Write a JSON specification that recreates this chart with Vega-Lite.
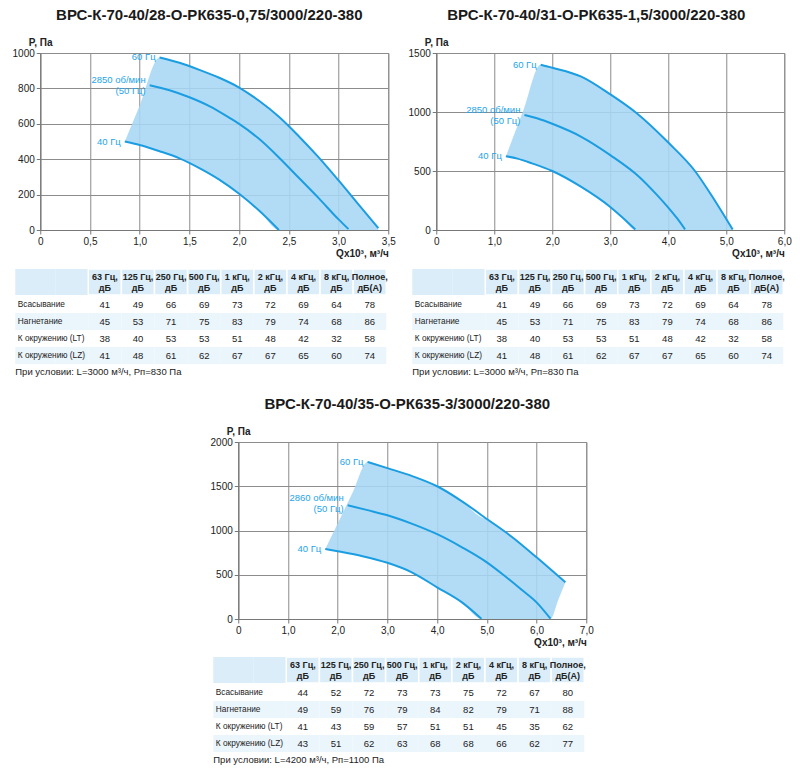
{
  "$schema": "https://vega.github.io/schema/vega-lite/v6.json",
  "background": "white",
  "padding": {"left": 11, "top": 7, "right": 5, "bottom": 5},
  "config": {
    "font": "Liberation Sans",
    "view": {"stroke": "#8c8c8c"},
    "axis": {
      "labelFontSize": 10, "labelColor": "#222", "labelFlush": false, "labelOverlap": false,
      "labelPadding": 2, "tickSize": 4, "tickColor": "#777", "domainColor": "#777",
      "gridColor": "#8c8c8c", "gridOpacity": 1,
      "titleFontSize": 10, "titleFontWeight": "bold", "titleColor": "#222"
    },
    "title": {"fontSize": 15, "fontWeight": "bold", "color": "#1a1a1a", "offset": 14, "anchor": "middle"}
  },
  "datasets": {
    "c1": [
      {"hz": "60", "q": 1.2, "p": 975}, {"hz": "60", "q": 1.4, "p": 945}, {"hz": "60", "q": 1.6, "p": 905},
      {"hz": "60", "q": 1.8, "p": 860}, {"hz": "60", "q": 2.0, "p": 805}, {"hz": "60", "q": 2.2, "p": 730},
      {"hz": "60", "q": 2.4, "p": 640}, {"hz": "60", "q": 2.6, "p": 530}, {"hz": "60", "q": 2.8, "p": 410},
      {"hz": "60", "q": 3.0, "p": 280}, {"hz": "60", "q": 3.2, "p": 145}, {"hz": "60", "q": 3.4, "p": 10},
      {"hz": "50", "q": 1.1, "p": 818}, {"hz": "50", "q": 1.3, "p": 790}, {"hz": "50", "q": 1.5, "p": 750},
      {"hz": "50", "q": 1.7, "p": 700}, {"hz": "50", "q": 1.9, "p": 635}, {"hz": "50", "q": 2.0, "p": 600},
      {"hz": "50", "q": 2.2, "p": 515}, {"hz": "50", "q": 2.4, "p": 410}, {"hz": "50", "q": 2.6, "p": 295},
      {"hz": "50", "q": 2.8, "p": 180}, {"hz": "50", "q": 3.0, "p": 60}, {"hz": "50", "q": 3.1, "p": 5},
      {"hz": "40", "q": 0.85, "p": 500}, {"hz": "40", "q": 1.0, "p": 480}, {"hz": "40", "q": 1.2, "p": 445},
      {"hz": "40", "q": 1.4, "p": 405}, {"hz": "40", "q": 1.6, "p": 350}, {"hz": "40", "q": 1.8, "p": 285},
      {"hz": "40", "q": 2.0, "p": 205}, {"hz": "40", "q": 2.2, "p": 110}, {"hz": "40", "q": 2.4, "p": 0}
    ],
    "f1": [
      {"q": 0.85, "p": 500, "p2": 500}, {"q": 1.0, "p": 704, "p2": 480}, {"q": 1.2, "p": 975, "p2": 445},
      {"q": 1.4, "p": 945, "p2": 405}, {"q": 1.6, "p": 905, "p2": 350}, {"q": 1.8, "p": 860, "p2": 285},
      {"q": 2.0, "p": 805, "p2": 205}, {"q": 2.2, "p": 730, "p2": 110}, {"q": 2.4, "p": 640, "p2": 0},
      {"q": 2.6, "p": 530, "p2": 0}, {"q": 2.8, "p": 410, "p2": 0}, {"q": 3.0, "p": 280, "p2": 0},
      {"q": 3.2, "p": 145, "p2": 0}, {"q": 3.4, "p": 10, "p2": 0}
    ],
    "l1": [
      {"q": 1.2, "p": 975, "t": "60 Гц"},
      {"q": 0.85, "p": 500, "t": "40 Гц"}
    ],
    "m1": [
      {"q": 1.1, "p": 818, "t": ["2850 об/мин", "(50 Гц)"]}
    ],
    "c2": [
      {"hz": "60", "q": 1.8, "p": 1400}, {"hz": "60", "q": 2.0, "p": 1375}, {"hz": "60", "q": 2.5, "p": 1300},
      {"hz": "60", "q": 3.0, "p": 1150}, {"hz": "60", "q": 3.43, "p": 1000}, {"hz": "60", "q": 4.0, "p": 741},
      {"hz": "60", "q": 4.46, "p": 500}, {"hz": "60", "q": 4.75, "p": 290}, {"hz": "60", "q": 5.0, "p": 93},
      {"hz": "60", "q": 5.11, "p": 5},
      {"hz": "50", "q": 1.52, "p": 975}, {"hz": "50", "q": 1.75, "p": 945}, {"hz": "50", "q": 2.0, "p": 900},
      {"hz": "50", "q": 2.5, "p": 790}, {"hz": "50", "q": 3.0, "p": 635}, {"hz": "50", "q": 3.5, "p": 450},
      {"hz": "50", "q": 3.8, "p": 300}, {"hz": "50", "q": 4.0, "p": 190}, {"hz": "50", "q": 4.15, "p": 100},
      {"hz": "50", "q": 4.29, "p": 5},
      {"hz": "40", "q": 1.2, "p": 625}, {"hz": "40", "q": 1.4, "p": 605}, {"hz": "40", "q": 1.65, "p": 565},
      {"hz": "40", "q": 2.0, "p": 500}, {"hz": "40", "q": 2.5, "p": 365}, {"hz": "40", "q": 3.0, "p": 195},
      {"hz": "40", "q": 3.2, "p": 110}, {"hz": "40", "q": 3.43, "p": 5}
    ],
    "f2": [
      {"q": 1.2, "p": 625, "p2": 625}, {"q": 1.5, "p": 1012, "p2": 585}, {"q": 1.8, "p": 1400, "p2": 540},
      {"q": 2.0, "p": 1375, "p2": 500}, {"q": 2.5, "p": 1300, "p2": 365}, {"q": 3.0, "p": 1150, "p2": 195},
      {"q": 3.2, "p": 1080, "p2": 110}, {"q": 3.43, "p": 1000, "p2": 0}, {"q": 4.0, "p": 741, "p2": 0},
      {"q": 4.46, "p": 500, "p2": 0}, {"q": 4.75, "p": 290, "p2": 0}, {"q": 5.0, "p": 93, "p2": 0},
      {"q": 5.11, "p": 5, "p2": 0}
    ],
    "l2": [
      {"q": 1.8, "p": 1400, "t": "60 Гц"},
      {"q": 1.2, "p": 625, "t": "40 Гц"}
    ],
    "m2": [
      {"q": 1.52, "p": 975, "t": ["2850 об/мин", "(50 Гц)"]}
    ],
    "c3": [
      {"hz": "60", "q": 2.6, "p": 1775}, {"hz": "60", "q": 3.0, "p": 1705}, {"hz": "60", "q": 3.5, "p": 1615},
      {"hz": "60", "q": 4.0, "p": 1500}, {"hz": "60", "q": 4.5, "p": 1330}, {"hz": "60", "q": 5.0, "p": 1130},
      {"hz": "60", "q": 5.5, "p": 930}, {"hz": "60", "q": 6.0, "p": 697}, {"hz": "60", "q": 6.58, "p": 414},
      {"hz": "50", "q": 2.2, "p": 1285}, {"hz": "50", "q": 2.6, "p": 1230}, {"hz": "50", "q": 3.0, "p": 1172},
      {"hz": "50", "q": 3.5, "p": 1075}, {"hz": "50", "q": 4.0, "p": 958}, {"hz": "50", "q": 4.5, "p": 810},
      {"hz": "50", "q": 5.0, "p": 640}, {"hz": "50", "q": 5.33, "p": 500}, {"hz": "50", "q": 5.7, "p": 330},
      {"hz": "50", "q": 6.0, "p": 188}, {"hz": "50", "q": 6.28, "p": 3},
      {"hz": "40", "q": 1.75, "p": 790}, {"hz": "40", "q": 2.0, "p": 765}, {"hz": "40", "q": 2.5, "p": 710},
      {"hz": "40", "q": 3.0, "p": 635}, {"hz": "40", "q": 3.5, "p": 525}, {"hz": "40", "q": 4.0, "p": 358},
      {"hz": "40", "q": 4.5, "p": 188}, {"hz": "40", "q": 4.89, "p": 3}
    ],
    "f3": [
      {"q": 1.75, "p": 790, "p2": 790}, {"q": 2.0, "p": 1080, "p2": 765}, {"q": 2.3, "p": 1428, "p2": 732},
      {"q": 2.6, "p": 1775, "p2": 695}, {"q": 3.0, "p": 1705, "p2": 635}, {"q": 3.5, "p": 1615, "p2": 525},
      {"q": 4.0, "p": 1500, "p2": 358}, {"q": 4.5, "p": 1330, "p2": 188}, {"q": 4.89, "p": 1150, "p2": 0},
      {"q": 5.0, "p": 1130, "p2": 0}, {"q": 5.5, "p": 930, "p2": 0}, {"q": 6.0, "p": 697, "p2": 0},
      {"q": 6.28, "p": 560, "p2": 0}, {"q": 6.43, "p": 487, "p2": 207}, {"q": 6.58, "p": 414, "p2": 414}
    ],
    "l3": [
      {"q": 2.6, "p": 1775, "t": "60 Гц"},
      {"q": 1.75, "p": 790, "t": "40 Гц"}
    ],
    "m3": [
      {"q": 2.2, "p": 1285, "t": ["2860 об/мин", "(50 Гц)"]}
    ],
    "hd": [
      {"col": "63 Гц", "h": ["63 Гц,", "дБ"]}, {"col": "125 Гц", "h": ["125 Гц,", "дБ"]},
      {"col": "250 Гц", "h": ["250 Гц,", "дБ"]}, {"col": "500 Гц", "h": ["500 Гц,", "дБ"]},
      {"col": "1 кГц", "h": ["1 кГц,", "дБ"]}, {"col": "2 кГц", "h": ["2 кГц,", "дБ"]},
      {"col": "4 кГц", "h": ["4 кГц,", "дБ"]}, {"col": "8 кГц", "h": ["8 кГц,", "дБ"]},
      {"col": "Полное", "h": ["Полное,", "дБ(А)"]}
    ],
    "tA": [
      {"row": "Всасывание", "63 Гц": 41, "125 Гц": 49, "250 Гц": 66, "500 Гц": 69, "1 кГц": 73, "2 кГц": 72, "4 кГц": 69, "8 кГц": 64, "Полное": 78},
      {"row": "Нагнетание", "63 Гц": 45, "125 Гц": 53, "250 Гц": 71, "500 Гц": 75, "1 кГц": 83, "2 кГц": 79, "4 кГц": 74, "8 кГц": 68, "Полное": 86},
      {"row": "К окружению (LT)", "63 Гц": 38, "125 Гц": 40, "250 Гц": 53, "500 Гц": 53, "1 кГц": 51, "2 кГц": 48, "4 кГц": 42, "8 кГц": 32, "Полное": 58},
      {"row": "К окружению (LZ)", "63 Гц": 41, "125 Гц": 48, "250 Гц": 61, "500 Гц": 62, "1 кГц": 67, "2 кГц": 67, "4 кГц": 65, "8 кГц": 60, "Полное": 74}
    ],
    "tB": [
      {"row": "Всасывание", "63 Гц": 44, "125 Гц": 52, "250 Гц": 72, "500 Гц": 73, "1 кГц": 73, "2 кГц": 75, "4 кГц": 72, "8 кГц": 67, "Полное": 80},
      {"row": "Нагнетание", "63 Гц": 49, "125 Гц": 59, "250 Гц": 76, "500 Гц": 79, "1 кГц": 84, "2 кГц": 82, "4 кГц": 79, "8 кГц": 71, "Полное": 88},
      {"row": "К окружению (LT)", "63 Гц": 41, "125 Гц": 43, "250 Гц": 59, "500 Гц": 57, "1 кГц": 51, "2 кГц": 51, "4 кГц": 45, "8 кГц": 35, "Полное": 62},
      {"row": "К окружению (LZ)", "63 Гц": 43, "125 Гц": 51, "250 Гц": 62, "500 Гц": 63, "1 кГц": 68, "2 кГц": 68, "4 кГц": 66, "8 кГц": 62, "Полное": 77}
    ]
  },
  "vconcat": [
    {
      "spacing": 9,
      "vconcat": [
        {
          "spacing": 11,
          "hconcat": [
            {
              "title": {"text": "ВРС-К-70-40/28-О-РК635-0,75/3000/220-380", "dx": -5},
              "width": 348, "height": 177,
              "encoding": {
                "x": {"field": "q", "type": "quantitative", "scale": {"domain": [0, 3.5], "nice": false},
                  "axis": {"values": [0, 0.5, 1, 1.5, 2, 2.5, 3, 3.5], "labelExpr": "datum.value == 0 ? '0' : replace(format(datum.value, '.1f'), '.', ',')",
                    "title": "Qx10³, м³/ч", "titleAnchor": "end", "titleAlign": "right", "titlePadding": 2, "grid": true}},
                "y": {"field": "p", "type": "quantitative", "scale": {"domain": [0, 1000], "nice": false},
                  "axis": {"values": [0, 200, 400, 600, 800, 1000], "format": "d", "title": "P, Па", "titleAngle": 0, "titleAlign": "left",
                    "titleBaseline": "bottom", "titleX": -12, "titleY": -6, "grid": true}}
              },
              "layer": [
                {"data": {"name": "f1"}, "mark": {"type": "area", "color": "#a7d7f5", "opacity": 0.88, "interpolate": "monotone"}, "encoding": {"y2": {"field": "p2"}}},
                {"data": {"name": "c1"}, "mark": {"type": "line", "color": "#1b9de2", "strokeWidth": 2, "interpolate": "monotone"}, "encoding": {"detail": {"field": "hz", "type": "nominal"}}},
                {"data": {"name": "l1"}, "mark": {"type": "text", "align": "right", "baseline": "middle", "dx": -4, "fontSize": 9.5, "color": "#1ea4ec"}, "encoding": {"text": {"field": "t"}}},
                {"data": {"name": "m1"}, "mark": {"type": "text", "align": "right", "baseline": "middle", "dx": -4, "dy": -5, "fontSize": 9.5, "color": "#1ea4ec", "lineHeight": 11}, "encoding": {"text": {"field": "t"}}}
              ]
            },
            {
              "title": {"text": "ВРС-К-70-40/31-О-РК635-1,5/3000/220-380", "dx": -14},
              "width": 348, "height": 177,
              "encoding": {
                "x": {"field": "q", "type": "quantitative", "scale": {"domain": [0, 6], "nice": false},
                  "axis": {"values": [0, 1, 2, 3, 4, 5, 6], "labelExpr": "datum.value == 0 ? '0' : replace(format(datum.value, '.1f'), '.', ',')",
                    "title": "Qx10³, м³/ч", "titleAnchor": "end", "titleAlign": "right", "titlePadding": 2, "grid": true}},
                "y": {"field": "p", "type": "quantitative", "scale": {"domain": [0, 1500], "nice": false},
                  "axis": {"values": [0, 500, 1000, 1500], "format": "d", "title": "P, Па", "titleAngle": 0, "titleAlign": "left",
                    "titleBaseline": "bottom", "titleX": -12, "titleY": -6, "grid": true}}
              },
              "layer": [
                {"data": {"name": "f2"}, "mark": {"type": "area", "color": "#a7d7f5", "opacity": 0.88, "interpolate": "monotone"}, "encoding": {"y2": {"field": "p2"}}},
                {"data": {"name": "c2"}, "mark": {"type": "line", "color": "#1b9de2", "strokeWidth": 2, "interpolate": "monotone"}, "encoding": {"detail": {"field": "hz", "type": "nominal"}}},
                {"data": {"name": "l2"}, "mark": {"type": "text", "align": "right", "baseline": "middle", "dx": -4, "fontSize": 9.5, "color": "#1ea4ec"}, "encoding": {"text": {"field": "t"}}},
                {"data": {"name": "m2"}, "mark": {"type": "text", "align": "right", "baseline": "middle", "dx": -4, "dy": -5, "fontSize": 9.5, "color": "#1ea4ec", "lineHeight": 11}, "encoding": {"text": {"field": "t"}}}
              ]
            }
          ]
        },
        {
          "spacing": 20,
          "hconcat": [
            {
              "spacing": 0,
              "vconcat": [
                {
                  "width": 352, "height": 26, "view": {"stroke": null},
                  "data": {"name": "hd"},
                  "layer": [
                    {"transform": [{"filter": {"field": "col", "equal": "63 Гц"}}], "mark": {"type": "rect", "color": "#dbedf9", "xOffset": -73},
                      "encoding": {"x": {"field": "col", "type": "nominal", "scale": {"type": "band", "domain": ["63 Гц", "125 Гц", "250 Гц", "500 Гц", "1 кГц", "2 кГц", "4 кГц", "8 кГц", "Полное"], "paddingInner": 0, "paddingOuter": 0.8157, "align": 0.889}, "axis": null}}},
                    {"transform": [{"filter": {"field": "col", "equal": "63 Гц"}}], "mark": {"type": "rect", "color": "#dbedf9", "xOffset": -66},
                      "encoding": {"x": {"field": "col", "type": "nominal", "axis": null}}},
                    {"transform": [{"filter": {"field": "col", "equal": "63 Гц"}}], "mark": {"type": "rect", "color": "#dbedf9", "xOffset": -33},
                      "encoding": {"x": {"field": "col", "type": "nominal", "axis": null}}},
                    {"mark": {"type": "rect", "color": "#dbedf9", "stroke": "#ffffff", "strokeWidth": 1.5},
                      "encoding": {"x": {"field": "col", "type": "nominal", "axis": null}}},
                    {"mark": {"type": "text", "fontSize": 9, "fontWeight": "bold", "color": "#222", "lineHeight": 10.5, "baseline": "middle", "dy": -5},
                      "encoding": {"x": {"field": "col", "type": "nominal", "axis": null}, "text": {"field": "h"}}}
                  ]
                },
                {
                  "width": 352, "height": 68, "view": {"stroke": null},
                  "data": {"name": "tA"},
                  "transform": [{"fold": ["63 Гц", "125 Гц", "250 Гц", "500 Гц", "1 кГц", "2 кГц", "4 кГц", "8 кГц", "Полное"], "as": ["col", "v"]}],
                  "title": {"text": "При условии: L=3000 м³/ч, Рп=830 Па", "orient": "bottom", "anchor": "start", "fontSize": 9.5, "fontWeight": "normal", "color": "#222", "offset": 3},
                  "encoding": {
                    "y": {"field": "row", "type": "nominal", "sort": ["Всасывание", "Нагнетание", "К окружению (LT)", "К окружению (LZ)"],
                      "scale": {"type": "band", "paddingInner": 0, "paddingOuter": 0},
                      "axis": {"title": null, "domain": false, "ticks": false, "grid": false, "labelAlign": "left", "labelPadding": 23, "labelFontSize": 8.3, "labelColor": "#222", "zindex": 1}},
                    "color": {"condition": {"test": "datum.row === 'Нагнетание' || datum.row === 'К окружению (LZ)'", "value": "#ebf5fc"}, "value": "#ffffff"}
                  },
                  "layer": [
                    {"transform": [{"filter": {"field": "col", "equal": "63 Гц"}}], "mark": {"type": "rect", "xOffset": -73},
                      "encoding": {"x": {"field": "col", "type": "nominal", "scale": {"type": "band", "domain": ["63 Гц", "125 Гц", "250 Гц", "500 Гц", "1 кГц", "2 кГц", "4 кГц", "8 кГц", "Полное"], "paddingInner": 0, "paddingOuter": 0.8157, "align": 0.889}, "axis": null}}},
                    {"transform": [{"filter": {"field": "col", "equal": "63 Гц"}}], "mark": {"type": "rect", "xOffset": -66},
                      "encoding": {"x": {"field": "col", "type": "nominal", "axis": null}}},
                    {"transform": [{"filter": {"field": "col", "equal": "63 Гц"}}], "mark": {"type": "rect", "xOffset": -33},
                      "encoding": {"x": {"field": "col", "type": "nominal", "axis": null}}},
                    {"mark": {"type": "rect"}, "encoding": {"x": {"field": "col", "type": "nominal", "axis": null}}},
                    {"mark": {"type": "text", "fontSize": 9.5},
                      "encoding": {"x": {"field": "col", "type": "nominal", "axis": null}, "text": {"field": "v", "type": "quantitative"}, "color": {"value": "#222"}}}
                  ]
                }
              ]
            },
            {
              "spacing": 0,
              "vconcat": [
                {
                  "width": 352, "height": 26, "view": {"stroke": null},
                  "data": {"name": "hd"},
                  "layer": [
                    {"transform": [{"filter": {"field": "col", "equal": "63 Гц"}}], "mark": {"type": "rect", "color": "#dbedf9", "xOffset": -73},
                      "encoding": {"x": {"field": "col", "type": "nominal", "scale": {"type": "band", "domain": ["63 Гц", "125 Гц", "250 Гц", "500 Гц", "1 кГц", "2 кГц", "4 кГц", "8 кГц", "Полное"], "paddingInner": 0, "paddingOuter": 0.8157, "align": 0.889}, "axis": null}}},
                    {"transform": [{"filter": {"field": "col", "equal": "63 Гц"}}], "mark": {"type": "rect", "color": "#dbedf9", "xOffset": -66},
                      "encoding": {"x": {"field": "col", "type": "nominal", "axis": null}}},
                    {"transform": [{"filter": {"field": "col", "equal": "63 Гц"}}], "mark": {"type": "rect", "color": "#dbedf9", "xOffset": -33},
                      "encoding": {"x": {"field": "col", "type": "nominal", "axis": null}}},
                    {"mark": {"type": "rect", "color": "#dbedf9", "stroke": "#ffffff", "strokeWidth": 1.5},
                      "encoding": {"x": {"field": "col", "type": "nominal", "axis": null}}},
                    {"mark": {"type": "text", "fontSize": 9, "fontWeight": "bold", "color": "#222", "lineHeight": 10.5, "baseline": "middle", "dy": -5},
                      "encoding": {"x": {"field": "col", "type": "nominal", "axis": null}, "text": {"field": "h"}}}
                  ]
                },
                {
                  "width": 352, "height": 68, "view": {"stroke": null},
                  "data": {"name": "tA"},
                  "transform": [{"fold": ["63 Гц", "125 Гц", "250 Гц", "500 Гц", "1 кГц", "2 кГц", "4 кГц", "8 кГц", "Полное"], "as": ["col", "v"]}],
                  "title": {"text": "При условии: L=3000 м³/ч, Рп=830 Па", "orient": "bottom", "anchor": "start", "fontSize": 9.5, "fontWeight": "normal", "color": "#222", "offset": 3},
                  "encoding": {
                    "y": {"field": "row", "type": "nominal", "sort": ["Всасывание", "Нагнетание", "К окружению (LT)", "К окружению (LZ)"],
                      "scale": {"type": "band", "paddingInner": 0, "paddingOuter": 0},
                      "axis": {"title": null, "domain": false, "ticks": false, "grid": false, "labelAlign": "left", "labelPadding": 23, "labelFontSize": 8.3, "labelColor": "#222", "zindex": 1}},
                    "color": {"condition": {"test": "datum.row === 'Нагнетание' || datum.row === 'К окружению (LZ)'", "value": "#ebf5fc"}, "value": "#ffffff"}
                  },
                  "layer": [
                    {"transform": [{"filter": {"field": "col", "equal": "63 Гц"}}], "mark": {"type": "rect", "xOffset": -73},
                      "encoding": {"x": {"field": "col", "type": "nominal", "scale": {"type": "band", "domain": ["63 Гц", "125 Гц", "250 Гц", "500 Гц", "1 кГц", "2 кГц", "4 кГц", "8 кГц", "Полное"], "paddingInner": 0, "paddingOuter": 0.8157, "align": 0.889}, "axis": null}}},
                    {"transform": [{"filter": {"field": "col", "equal": "63 Гц"}}], "mark": {"type": "rect", "xOffset": -66},
                      "encoding": {"x": {"field": "col", "type": "nominal", "axis": null}}},
                    {"transform": [{"filter": {"field": "col", "equal": "63 Гц"}}], "mark": {"type": "rect", "xOffset": -33},
                      "encoding": {"x": {"field": "col", "type": "nominal", "axis": null}}},
                    {"mark": {"type": "rect"}, "encoding": {"x": {"field": "col", "type": "nominal", "axis": null}}},
                    {"mark": {"type": "text", "fontSize": 9.5},
                      "encoding": {"x": {"field": "col", "type": "nominal", "axis": null}, "text": {"field": "v", "type": "quantitative"}, "color": {"value": "#222"}}}
                  ]
                }
              ]
            }
          ]
        }
      ]
    },
    {
      "spacing": 8,
      "vconcat": [
        {
          "hconcat": [
            {
              "title": {"text": "ВРС-К-70-40/35-О-РК635-3/3000/220-380", "dx": -5},
              "width": 348, "height": 177,
              "encoding": {
                "x": {"field": "q", "type": "quantitative", "scale": {"domain": [0, 7], "nice": false},
                  "axis": {"values": [0, 1, 2, 3, 4, 5, 6, 7], "labelExpr": "datum.value == 0 ? '0' : replace(format(datum.value, '.1f'), '.', ',')",
                    "title": "Qx10³, м³/ч", "titleAnchor": "end", "titleAlign": "right", "titlePadding": 2, "grid": true}},
                "y": {"field": "p", "type": "quantitative", "scale": {"domain": [0, 2000], "nice": false},
                  "axis": {"values": [0, 500, 1000, 1500, 2000], "format": "d", "title": "P, Па", "titleAngle": 0, "titleAlign": "left",
                    "titleBaseline": "bottom", "titleX": -12, "titleY": -6, "grid": true}}
              },
              "layer": [
                {"data": {"name": "f3"}, "mark": {"type": "area", "color": "#a7d7f5", "opacity": 0.88, "interpolate": "monotone"}, "encoding": {"y2": {"field": "p2"}}},
                {"data": {"name": "c3"}, "mark": {"type": "line", "color": "#1b9de2", "strokeWidth": 2, "interpolate": "monotone"}, "encoding": {"detail": {"field": "hz", "type": "nominal"}}},
                {"data": {"name": "l3"}, "mark": {"type": "text", "align": "right", "baseline": "middle", "dx": -4, "fontSize": 9.5, "color": "#1ea4ec"}, "encoding": {"text": {"field": "t"}}},
                {"data": {"name": "m3"}, "mark": {"type": "text", "align": "right", "baseline": "middle", "dx": -4, "dy": -7, "fontSize": 9.5, "color": "#1ea4ec", "lineHeight": 11}, "encoding": {"text": {"field": "t"}}}
              ]
            }
          ]
        },
        {
          "hconcat": [
            {
              "spacing": 0,
              "vconcat": [
                {
                  "width": 352, "height": 26, "view": {"stroke": null},
                  "data": {"name": "hd"},
                  "layer": [
                    {"transform": [{"filter": {"field": "col", "equal": "63 Гц"}}], "mark": {"type": "rect", "color": "#dbedf9", "xOffset": -73},
                      "encoding": {"x": {"field": "col", "type": "nominal", "scale": {"type": "band", "domain": ["63 Гц", "125 Гц", "250 Гц", "500 Гц", "1 кГц", "2 кГц", "4 кГц", "8 кГц", "Полное"], "paddingInner": 0, "paddingOuter": 0.8157, "align": 0.889}, "axis": null}}},
                    {"transform": [{"filter": {"field": "col", "equal": "63 Гц"}}], "mark": {"type": "rect", "color": "#dbedf9", "xOffset": -66},
                      "encoding": {"x": {"field": "col", "type": "nominal", "axis": null}}},
                    {"transform": [{"filter": {"field": "col", "equal": "63 Гц"}}], "mark": {"type": "rect", "color": "#dbedf9", "xOffset": -33},
                      "encoding": {"x": {"field": "col", "type": "nominal", "axis": null}}},
                    {"mark": {"type": "rect", "color": "#dbedf9", "stroke": "#ffffff", "strokeWidth": 1.5},
                      "encoding": {"x": {"field": "col", "type": "nominal", "axis": null}}},
                    {"mark": {"type": "text", "fontSize": 9, "fontWeight": "bold", "color": "#222", "lineHeight": 10.5, "baseline": "middle", "dy": -5},
                      "encoding": {"x": {"field": "col", "type": "nominal", "axis": null}, "text": {"field": "h"}}}
                  ]
                },
                {
                  "width": 352, "height": 68, "view": {"stroke": null},
                  "data": {"name": "tB"},
                  "transform": [{"fold": ["63 Гц", "125 Гц", "250 Гц", "500 Гц", "1 кГц", "2 кГц", "4 кГц", "8 кГц", "Полное"], "as": ["col", "v"]}],
                  "title": {"text": "При условии: L=4200 м³/ч, Рп=1100 Па", "orient": "bottom", "anchor": "start", "fontSize": 9.5, "fontWeight": "normal", "color": "#222", "offset": 3},
                  "encoding": {
                    "y": {"field": "row", "type": "nominal", "sort": ["Всасывание", "Нагнетание", "К окружению (LT)", "К окружению (LZ)"],
                      "scale": {"type": "band", "paddingInner": 0, "paddingOuter": 0},
                      "axis": {"title": null, "domain": false, "ticks": false, "grid": false, "labelAlign": "left", "labelPadding": 23, "labelFontSize": 8.3, "labelColor": "#222", "zindex": 1}},
                    "color": {"condition": {"test": "datum.row === 'Нагнетание' || datum.row === 'К окружению (LZ)'", "value": "#ebf5fc"}, "value": "#ffffff"}
                  },
                  "layer": [
                    {"transform": [{"filter": {"field": "col", "equal": "63 Гц"}}], "mark": {"type": "rect", "xOffset": -73},
                      "encoding": {"x": {"field": "col", "type": "nominal", "scale": {"type": "band", "domain": ["63 Гц", "125 Гц", "250 Гц", "500 Гц", "1 кГц", "2 кГц", "4 кГц", "8 кГц", "Полное"], "paddingInner": 0, "paddingOuter": 0.8157, "align": 0.889}, "axis": null}}},
                    {"transform": [{"filter": {"field": "col", "equal": "63 Гц"}}], "mark": {"type": "rect", "xOffset": -66},
                      "encoding": {"x": {"field": "col", "type": "nominal", "axis": null}}},
                    {"transform": [{"filter": {"field": "col", "equal": "63 Гц"}}], "mark": {"type": "rect", "xOffset": -33},
                      "encoding": {"x": {"field": "col", "type": "nominal", "axis": null}}},
                    {"mark": {"type": "rect"}, "encoding": {"x": {"field": "col", "type": "nominal", "axis": null}}},
                    {"mark": {"type": "text", "fontSize": 9.5},
                      "encoding": {"x": {"field": "col", "type": "nominal", "axis": null}, "text": {"field": "v", "type": "quantitative"}, "color": {"value": "#222"}}}
                  ]
                }
              ]
            }
          ]
        }
      ]
    }
  ],
  "spacing": 19,
  "center": true
}
